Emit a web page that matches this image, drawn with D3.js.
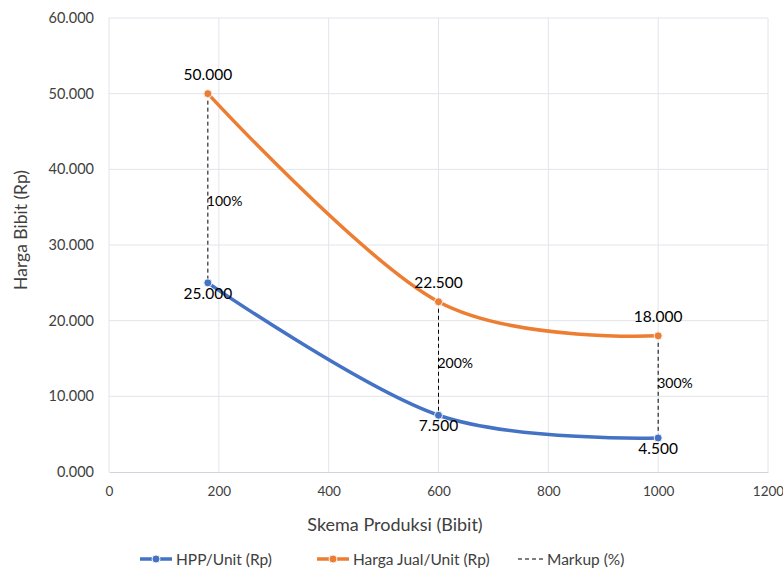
<!DOCTYPE html>
<html><head><meta charset="utf-8">
<script src="https://cdn.jsdelivr.net/npm/d3@7"></script>
<style>body{margin:0;background:#fff}svg{display:block}text{font-family:Lato,"Open Sans",sans-serif}</style>
</head><body><svg id="c" width="783" height="569"></svg>
<script>
const schemes = [180, 600, 1000];
const hpp = [25000, 7500, 4500];
const hargaJual = [50000, 22500, 18000];
const markupLabels = ["100%", "200%", "300%"];
const xTicks = [0, 200, 400, 600, 800, 1000, 1200];
const yTicks = [0, 10000, 20000, 30000, 40000, 50000, 60000];
const seriesNames = ["HPP/Unit (Rp)", "Harga Jual/Unit (Rp)", "Markup (%)"];
const colors = ["#4472C4", "#ED7D31"];
const markupLabelDy = [18, 9, 1];

const svg = d3.select("#c");
const x = d3.scaleLinear().domain([0, 1200]).range([109, 768]);
const y = d3.scaleLinear().domain([0, 60000]).range([472, 18]);
const fmt = v => d3.format(".3f")(v / 1000);

// grid
svg.append("g").selectAll("line").data(yTicks.slice(1)).join("line")
  .attr("x1", x(0)).attr("x2", x(1200)).attr("y1", d => y(d)).attr("y2", d => y(d))
  .attr("stroke", "#e1e4ea").attr("stroke-width", 1);
svg.append("g").selectAll("line").data(xTicks).join("line")
  .attr("x1", d => x(d)).attr("x2", d => x(d)).attr("y1", y(0)).attr("y2", y(60000))
  .attr("stroke", "#e1e4ea").attr("stroke-width", 1);

// axes
const xAxis = svg.append("g").attr("transform", `translate(0,${y(0)})`)
  .call(d3.axisBottom(x).tickValues(xTicks).tickSize(0).tickPadding(14).tickFormat(d3.format("d")));
xAxis.select(".domain").attr("stroke", "#d0d4dc");
xAxis.selectAll("text").attr("font-size", 13.5).attr("fill", "#404040");
const yAxis = svg.append("g").attr("transform", `translate(${x(0)},0)`)
  .call(d3.axisLeft(y).tickValues(yTicks).tickSize(0).tickPadding(15).tickFormat(fmt));
yAxis.select(".domain").remove();
yAxis.selectAll("text").attr("font-size", 14.5).attr("fill", "#404040");

// titles
svg.append("text").attr("x", 395).attr("y", 531).attr("text-anchor", "middle")
  .attr("font-size", 18).attr("fill", "#404040").text("Skema Produksi (Bibit)");
svg.append("text").attr("transform", "translate(27,230) rotate(-90)").attr("text-anchor", "middle")
  .attr("font-size", 17.5).attr("fill", "#404040").text("Harga Bibit (Rp)");

// markup dashed lines
svg.append("g").selectAll("line").data(schemes).join("line")
  .attr("x1", d => x(d)).attr("x2", d => x(d))
  .attr("y1", (d, i) => y(hargaJual[i])).attr("y2", (d, i) => y(hpp[i]))
  .attr("stroke", "#000").attr("stroke-width", 1).attr("stroke-dasharray", "4,3");
svg.append("g").selectAll("text").data(schemes).join("text")
  .attr("x", d => x(d) - 1).attr("y", (d, i) => y((hargaJual[i] + hpp[i]) / 2) + markupLabelDy[i])
  .attr("font-size", 14).attr("fill", "#000").text((d, i) => markupLabels[i]);

// series
const line = d3.line().curve(d3.curveCardinal.tension(0)).x(d => x(d[0])).y(d => y(d[1]));
[hpp, hargaJual].forEach((vals, s) => {
  const pts = schemes.map((d, i) => [d, vals[i]]);
  svg.append("path").datum(pts).attr("d", line).attr("fill", "none")
    .attr("stroke", colors[s]).attr("stroke-width", 3.5).attr("stroke-linecap", "round");
  svg.append("g").selectAll("circle").data(pts).join("circle")
    .attr("cx", d => x(d[0])).attr("cy", d => y(d[1])).attr("r", 4)
    .attr("fill", colors[s]).attr("stroke", "#f2f2f2").attr("stroke-width", 1);
  svg.append("g").selectAll("text").data(pts).join("text")
    .attr("x", d => x(d[0])).attr("y", d => s === 0 ? y(d[1]) + 16 : y(d[1]) - 14)
    .attr("text-anchor", "middle").attr("font-size", 15.5).attr("fill", "#000")
    .text(d => fmt(d[1]));
});

// legend
const lg = svg.append("g");
const legendX = [140, 317];
[0, 1].forEach(s => {
  lg.append("line").attr("x1", legendX[s]).attr("x2", legendX[s] + 32).attr("y1", 559).attr("y2", 559)
    .attr("stroke", colors[s]).attr("stroke-width", 3.5);
  lg.append("circle").attr("cx", legendX[s] + 16).attr("cy", 559).attr("r", 4)
    .attr("fill", colors[s]).attr("stroke", "#f2f2f2").attr("stroke-width", 1);
  lg.append("text").attr("x", legendX[s] + 36).attr("y", 565).attr("font-size", 15.5)
    .attr("fill", "#404040").text(seriesNames[s]);
});
lg.append("line").attr("x1", 518).attr("x2", 543).attr("y1", 559).attr("y2", 559)
  .attr("stroke", "#000").attr("stroke-width", 1).attr("stroke-dasharray", "4,3");
lg.append("text").attr("x", 547).attr("y", 565).attr("font-size", 15.5)
  .attr("fill", "#404040").text(seriesNames[2]);
</script></body></html>
